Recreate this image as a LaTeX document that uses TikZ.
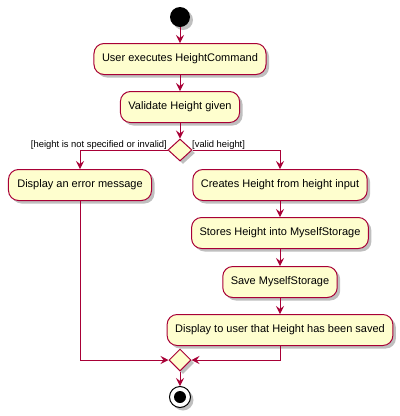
\documentclass[tikz,border=0pt]{standalone}
\usepackage{fontspec}
\setmainfont{Liberation Sans}
\usetikzlibrary{arrows.meta,shapes.geometric,shadows}
\definecolor{boxfill}{HTML}{FEFECE}
\definecolor{boxline}{HTML}{A80036}
\tikzset{
  act/.style={draw=boxline, fill=boxfill, line width=1bp, rounded corners=10bp,
    minimum height=31bp, inner xsep=8bp, font=\fontsize{11bp}{13bp}\selectfont,
    drop shadow={shadow xshift=3bp, shadow yshift=-3bp, fill=black, opacity=0.25}},
  dec/.style={draw=boxline, fill=boxfill, line width=1bp, diamond, minimum width=24bp,
    minimum height=22bp, inner sep=0pt, aspect=1,
    drop shadow={shadow xshift=3bp, shadow yshift=-3bp, fill=black, opacity=0.25}},
  flow/.style={draw=boxline, line width=1bp, -{Stealth[length=8bp,width=8bp,inset=3bp]}},
  guard/.style={font=\fontsize{9.4bp}{11bp}\selectfont, inner sep=1bp},
}
\begin{document}
\begin{tikzpicture}[x=1bp,y=-1bp]
\useasboundingbox (0,0) rectangle (400,416);
\node[circle, fill=black, minimum size=20bp, inner sep=0pt,
  drop shadow={shadow xshift=3bp, shadow yshift=-3bp, fill=black, opacity=0.25}] (start) at (180,17) {};
\node[act, minimum width=172bp] (a1) at (180,59) {User executes HeightCommand};
\node[act, minimum width=118bp] (a2) at (180,107) {Validate Height given};
\node[dec, minimum width=24bp, minimum height=22bp] (d1) at (180,150) {};
\node[guard, anchor=south east] (gl) at (168,151) {[height is not specified or invalid]};
\node[guard, anchor=south west] (gr) at (191,151) {[valid height]};
\node[act, minimum width=143bp] (err) at (80,185) {Display an error message};
\node[act, minimum width=174bp] (c1) at (280,185) {Creates Height from height input};
\node[act, minimum width=174bp] (c2) at (280,233) {Stores Height into MyselfStorage};
\node[act, minimum width=112bp] (c3) at (280,282) {Save MyselfStorage};
\node[act, minimum width=224bp] (c4) at (280,330) {Display to user that Height has been saved};
\node[dec, minimum width=22bp, minimum height=22bp] (d2) at (180,360) {};
\node[circle, draw=black, line width=1bp, fill=white, minimum size=21bp, inner sep=0pt,
  drop shadow={shadow xshift=3bp, shadow yshift=-3bp, fill=black, opacity=0.25}] (stop) at (180,397) {};
\node[circle, fill=black, minimum size=12bp, inner sep=0pt] (stopin) at (stop.center) {};

\draw[flow] (start) -- (a1);
\draw[flow] (a1) -- (a2);
\draw[flow] (a2) -- (d1);
\draw[flow] (d1.west) -| (err.north);
\draw[flow] (d1.east) -| (c1.north);
\draw[flow] (c1) -- (c2);
\draw[flow] (c2) -- (c3);
\draw[flow] (c3) -- (c4);
\draw[flow] (err.south) |- (d2.west);
\draw[flow] (c4.south) |- (d2.east);
\draw[flow] (d2) -- (stop);
\end{tikzpicture}
\end{document}
